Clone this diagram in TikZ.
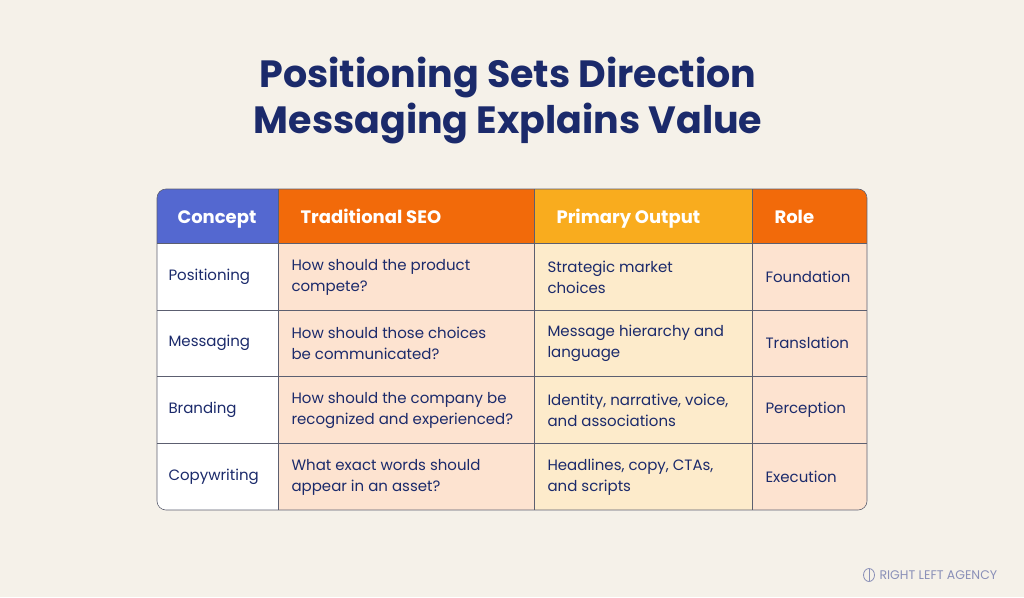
\documentclass[tikz,border=0pt]{standalone}
\usepackage{fontspec}
\setmainfont{Poppins}
\usetikzlibrary{positioning}
\definecolor{bgcol}{HTML}{F5F1E9}
\definecolor{navy}{HTML}{1B2A6B}
\definecolor{hblue}{HTML}{5468D0}
\definecolor{horange}{HTML}{F26A0A}
\definecolor{hyellow}{HTML}{F9AC1E}
\definecolor{corange}{HTML}{FDE3D0}
\definecolor{cyellow}{HTML}{FDEBCB}
\definecolor{gridcol}{HTML}{5C5F70}
\definecolor{logocol}{HTML}{8A90B8}
\begin{document}
\begin{tikzpicture}[x=1pt, y=-1pt]
  % Styles
  \tikzstyle{head}=[anchor=base west, text=white, font=\fontsize{18}{20}\selectfont\bfseries]
  \tikzstyle{cell}=[anchor=west, text=navy, align=left, font=\fontsize{15}{21}\selectfont]
  \tikzstyle{grid}=[draw=gridcol, line width=0.6pt]

  \fill[bgcol] (0,0) rectangle (1024,597);
  \useasboundingbox (0,0) rectangle (1024,597);

  % Title
  \node[text=navy, align=center, font=\fontsize{38}{46}\selectfont\bfseries] (title) at (508,101)
    {Positioning Sets Direction\\Messaging Explains Value};

  % Table background
  \begin{scope}
    \clip[rounded corners=9pt] (157,189) rectangle (867,510);
    \fill[hblue] (157,189) rectangle (278,243);
    \fill[horange] (278,189) rectangle (534,243);
    \fill[hyellow] (534,189) rectangle (752,243);
    \fill[horange] (752,189) rectangle (867,243);
    \fill[white] (157,243) rectangle (278,510);
    \fill[corange] (278,243) rectangle (534,510);
    \fill[cyellow] (534,243) rectangle (752,510);
    \fill[corange] (752,243) rectangle (867,510);
  \end{scope}
  \draw[grid] (157,243) -- (867,243);
  \foreach \y in {310,376,443} \draw[grid] (157,\y) -- (867,\y);
  \foreach \x in {278,534,752} \draw[grid] (\x,189) -- (\x,510);
  \draw[grid, rounded corners=9pt] (157,189) rectangle (867,510);

  % Header
  \node[head] (h_concept) at (174,223) {Concept};
  \node[head] (h_seo) at (297,223) {Traditional SEO};
  \node[head] (h_output) at (553,223) {Primary Output};
  \node[head] (h_role) at (771,223) {Role};

  % Rows
  \foreach \name/\y/\q/\o/\r in {
    Positioning/277/{How should the product\\compete?}/{Strategic market\\choices}/Foundation,
    Messaging/343/{How should those choices\\be communicated?}/{Message hierarchy and\\language}/Translation,
    Branding/410/{How should the company be\\recognized and experienced?}/{Identity, narrative, voice,\\and associations}/Perception,
    Copywriting/477/{What exact words should\\appear in an asset?}/{Headlines, copy, CTAs,\\and scripts}/Execution}{
    \node[cell] (c_\name) at (165,\y) {\name};
    \node[cell] (q_\name) at (288,\y) {\q};
    \node[cell] (o_\name) at (544,\y) {\o};
    \node[cell] (r_\name) at (762,\y) {\r};
  }

  % Logo
  \draw[logocol, line width=0.8pt] (869,575) ellipse (5.5 and 6.5);
  \draw[logocol, line width=0.8pt] (869,569) -- (869,581);
  \node[anchor=west, text=logocol, font=\fontsize{12.5}{14}\selectfont] (logo) at (876,575) {RIGHT LEFT AGENCY};
\end{tikzpicture}
\end{document}
